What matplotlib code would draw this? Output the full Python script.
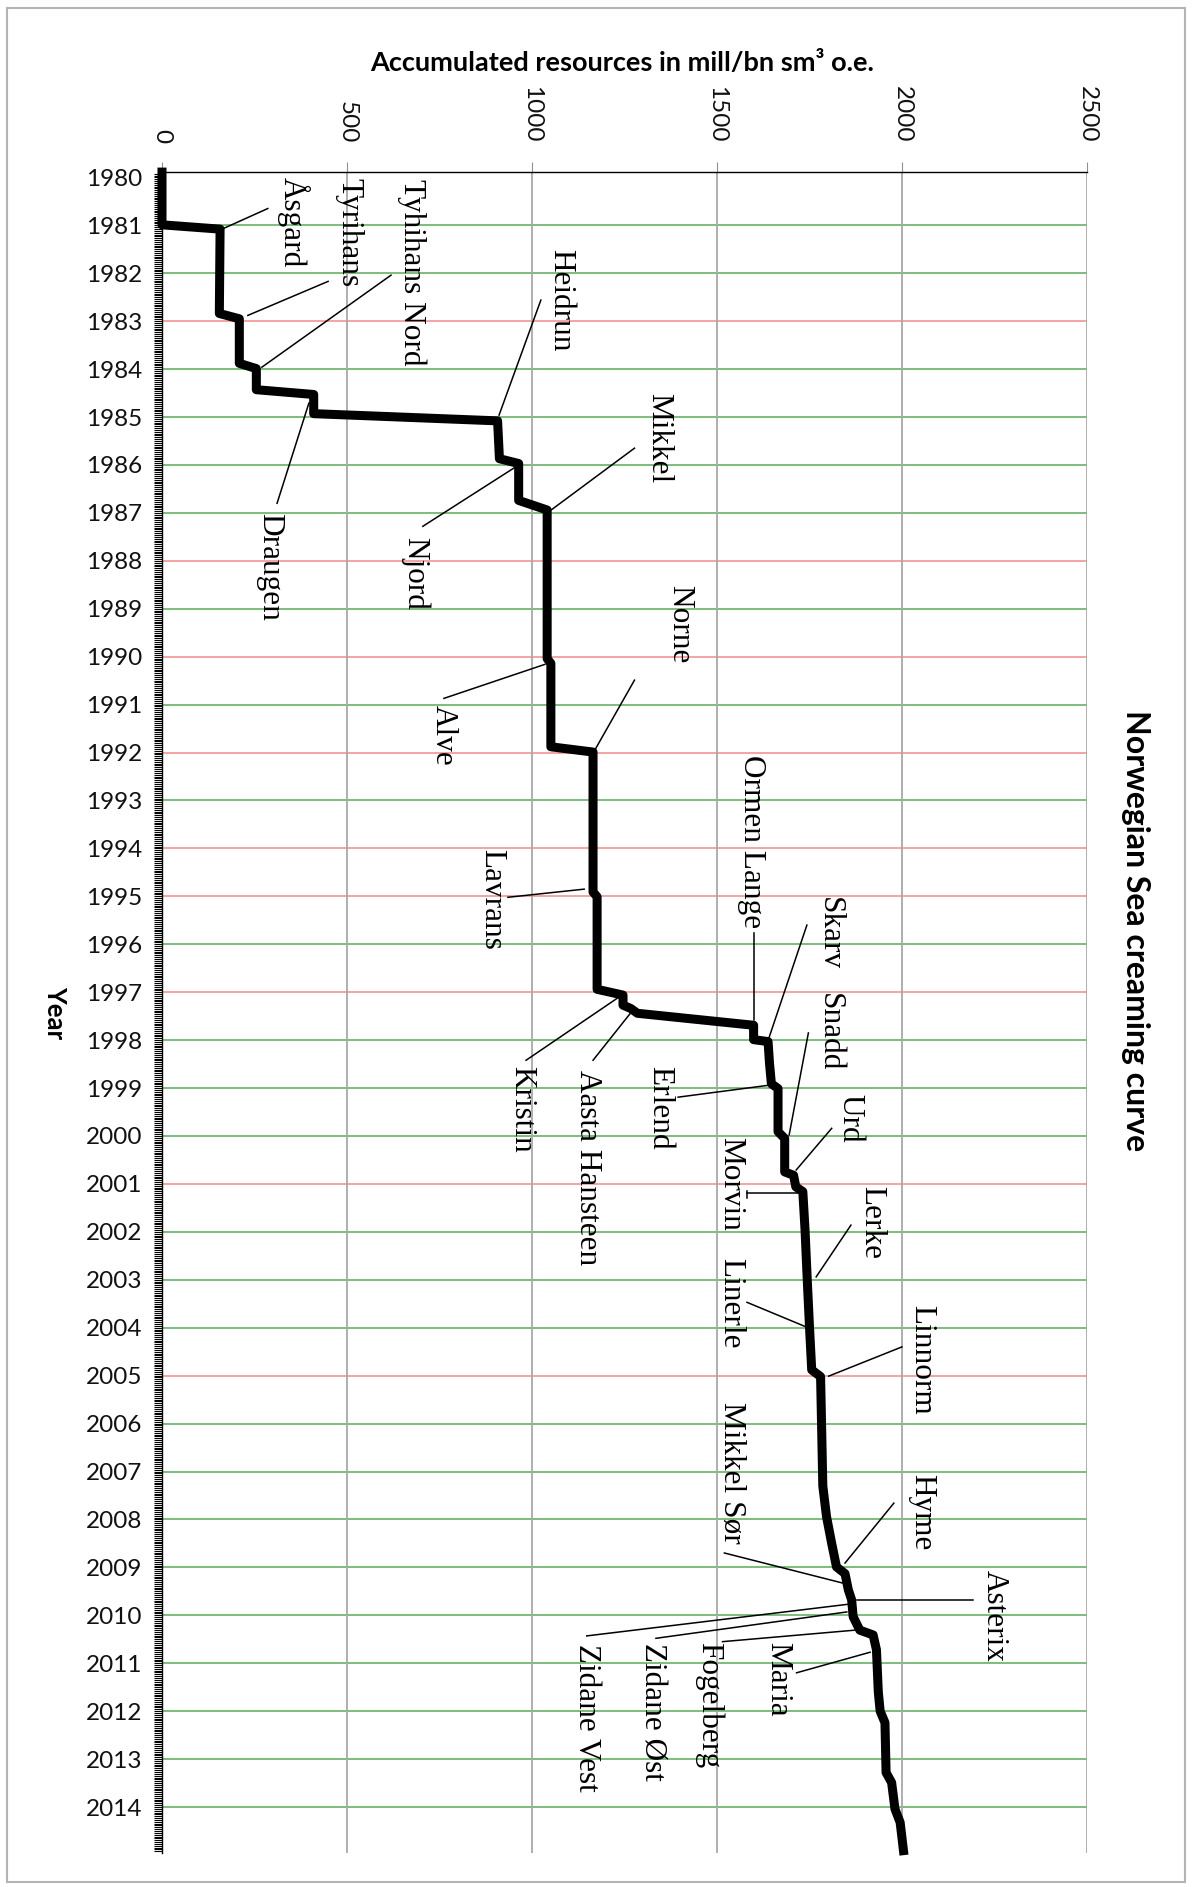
import matplotlib.pyplot as plt
from matplotlib.ticker import MultipleLocator
from matplotlib.patches import Rectangle

# cumulative resources (mill sm3 o.e.) against decimal year
resources = [0, 0, 157, 155, 209, 209, 255, 255, 410, 410, 907, 912, 964, 964,
             1041, 1041, 1051, 1051, 1165, 1165, 1176, 1176, 1246, 1246, 1267,
             1285, 1599, 1599, 1638, 1642, 1647, 1665, 1665, 1683, 1683, 1707,
             1713, 1732, 1738, 1744, 1750, 1756, 1780, 1786, 1796, 1810, 1823,
             1846, 1855, 1864, 1868, 1877, 1886, 1922, 1931, 1936, 1941, 1954,
             1957, 1972, 1981, 1995, 2004]
years = [1979.89, 1980.99, 1981.08, 1982.84, 1982.95, 1983.88, 1983.99, 1984.43,
         1984.53, 1984.93, 1985.08, 1985.87, 1985.97, 1986.74, 1986.94, 1990.04,
         1990.14, 1991.88, 1991.99, 1994.91, 1995.01, 1996.94, 1997.06, 1997.27,
         1997.34, 1997.44, 1997.69, 1997.99, 1998.03, 1998.49, 1998.91, 1999.01,
         1999.91, 2000.05, 2000.75, 2000.82, 2001.06, 2001.16, 2001.96, 2003.01,
         2003.98, 2004.88, 2005.02, 2007.30, 2007.94, 2008.50, 2008.99, 2009.13,
         2009.47, 2009.68, 2010.03, 2010.17, 2010.31, 2010.41, 2010.72, 2011.60,
         2012.00, 2012.24, 2013.28, 2013.49, 2014.04, 2014.32, 2014.91]

year_ticks = list(range(1980, 2015))
value_ticks = [0, 500, 1000, 1500, 2000, 2500]
red_years = [1983, 1988, 1990, 1992, 1994, 1995, 1997, 2001, 2005]

fields = ["Åsgard", "Tyrihans", "Tyhihans Nord", "Heidrun", "Draugen", "Njord",
          "Mikkel", "Alve", "Norne", "Lavrans", "Ormen Lange", "Skarv", "Snadd",
          "Urd", "Kristin", "Aasta Hansteen", "Erlend", "Morvin", "Lerke",
          "Linerle", "Linnorm", "Mikkel Sør", "Hyme", "Asterix", "Maria",
          "Fogelberg", "Zidane Øst", "Zidane Vest"]
# label centre, leader start, leader end (value, year)
label_xy = [(354, 1980.94), (505, 1981.15), (676, 1981.98), (1078, 1982.56),
            (292, 1988.13), (684, 1988.26), (1341, 1985.44), (759, 1991.64),
            (1400, 1989.32), (892, 1995.06), (1592, 1993.85), (1805, 1995.77),
            (1805, 1997.83), (1859, 1999.63), (973, 1999.44), (1149, 2000.67),
            (1346, 1999.42), (1538, 2001.0), (1919, 2001.80), (1538, 2003.49),
            (2054, 2004.68), (1538, 2007.03), (2054, 2007.85), (2249, 2010.02),
            (1665, 2011.33), (1478, 2011.87), (1324, 2012.02), (1146, 2012.14)]
leader_a = [(286, 1980.65), (449, 1982.17), (619, 1982.04), (1024, 1982.56),
            (311, 1986.80), (705, 1987.28), (1277, 1985.65), (762, 1990.87),
            (1277, 1990.49), (935, 1995.02), (1599, 1995.77), (1743, 1995.60),
            (1747, 1997.85), (1810, 1999.84), (984, 1998.42), (1165, 1998.42),
            (1395, 1999.19), (1581, 2001.19), (1862, 2001.86), (1581, 2003.47),
            (2000, 2004.40), (1520, 2008.70), (1978, 2007.66), (2192, 2009.68),
            (1715, 2011.20), (1515, 2010.55), (1335, 2010.48), (1148, 2010.43)]
leader_b = [(168, 1981.06), (232, 1982.88), (270, 1983.96), (911, 1984.96),
            (397, 1984.71), (954, 1986.05), (1043, 1986.99), (1035, 1990.16),
            (1166, 1992.0), (1141, 1994.85), (1599, 1997.58), (1641, 1997.94),
            (1695, 1999.98), (1714, 2000.71), (1243, 1997.06), (1268, 1997.42),
            (1641, 1998.94), (1719, 2001.19), (1768, 2002.94), (1743, 2003.99),
            (1802, 2005.01), (1841, 2009.33), (1846, 2008.91), (1878, 2009.68),
            (1914, 2010.77), (1873, 2010.31), (1851, 2009.93), (1854, 2009.77)]

fig = plt.figure(figsize=(11.92, 18.87), dpi=100)
ax = fig.add_axes([0.1359, 0.018, 0.776, 0.8908])
ax.set_xlim(0, 2500)
ax.set_ylim(2014.96, 1979.89)

# grid
ax.set_xticks(value_ticks)
ax.grid(axis="x", color="#a8a8a8", lw=1.3, zorder=0)
for y in year_ticks[1:]:
    c = "#f4a3a3" if y in red_years else "#7dbd7d"
    ax.axhline(y, color=c, lw=1.4, zorder=0)

# creaming curve
ax.plot(resources, years, color="black", lw=6.5, solid_joinstyle="round",
        zorder=3, clip_on=False)

# field labels with leader lines
for name, t, a, b in zip(fields, label_xy, leader_a, leader_b):
    ax.plot([a[0], b[0]], [a[1], b[1]], color="black", lw=1.1, zorder=4)
    ax.text(t[0], t[1], name, rotation=-90, ha="center", va="center",
            family="Liberation Serif", fontsize=22.5, zorder=5)
ax.plot([1581, 1581], [2001.15, 2001.30], color="black", lw=1.1, zorder=4)

# axes styling
ax.xaxis.tick_top()
ax.tick_params(axis="x", top=True, bottom=False, labeltop=True,
               labelbottom=False, length=7, color="#909090", pad=14,
               labelsize=17.5, labelrotation=-90)
ax.set_yticks(year_ticks)
ax.yaxis.set_minor_locator(MultipleLocator(1 / 26))
ax.tick_params(axis="y", which="both", length=5.8, width=0.8, color="black",
               pad=8.6, labelsize=17.5)
for lbl in ax.get_xticklabels() + ax.get_yticklabels():
    lbl.set_family("Lato")
    lbl.set_color("#111111")
for s in ["right", "bottom"]:
    ax.spines[s].set_visible(False)
ax.spines["top"].set_linewidth(1.0)
ax.spines["left"].set_linewidth(1.0)

fig.text(0.5218, 0.9666, "Accumulated resources in mill/bn sm³ o.e.",
         ha="center", va="center", fontsize=19.5, fontweight="bold", family="Lato")
fig.text(0.0461, 0.4632, "Year", rotation=-90, ha="center", va="center",
         fontsize=18.5, fontweight="bold", family="Lato")
fig.text(0.953, 0.5066, "Norwegian Sea creaming curve", rotation=-90,
         ha="center", va="center", fontsize=23, fontweight="bold", family="Lato")

fig.patches.append(Rectangle((7 / 1192, 5 / 1887), 1178 / 1192, 1874 / 1887,
                             transform=fig.transFigure, fill=False,
                             edgecolor="#b4b4b4", lw=1.5))

fig.savefig("out.png", dpi=100)
